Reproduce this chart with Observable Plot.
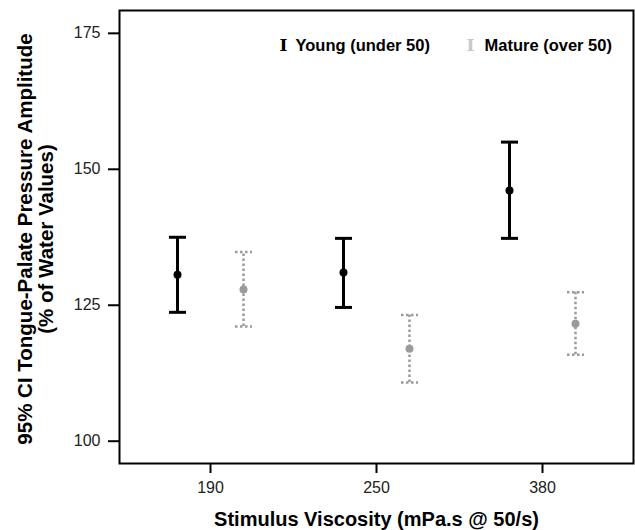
<!DOCTYPE html>
<html>
<head>
<meta charset="utf-8">
<script src="https://cdn.jsdelivr.net/npm/d3@7"></script>
<script src="https://cdn.jsdelivr.net/npm/@observablehq/plot@0.6"></script>
<style>
  html, body { margin: 0; padding: 0; background: #fff; }
  #chart svg { display: block; }
</style>
</head>
<body>
<div id="chart"></div>
<script>
// ---- data ----
const categories = ["190", "250", "380"];
const groups = ["Young (under 50)", "Mature (over 50)"];
const youngMean = [130.6, 131.0, 146.1];
const youngLow = [123.7, 124.6, 137.3];
const youngHigh = [137.5, 137.3, 155.0];
const matureMean = [127.9, 117.0, 121.6];
const matureLow = [121.1, 110.8, 115.9];
const matureHigh = [134.8, 123.2, 127.4];
const yTicks = [100, 125, 150, 175];
const xTitle = "Stimulus Viscosity (mPa.s @ 50/s)";
const yTitle = "95% CI Tongue-Palate Pressure Amplitude\n(% of Water Values)";

const young = categories.map((c, i) => ({cat: c, mean: youngMean[i], lo: youngLow[i], hi: youngHigh[i]}));
const mature = categories.map((c, i) => ({cat: c, mean: matureMean[i], lo: matureLow[i], hi: matureHigh[i]}));

const FONT = "'Liberation Sans', Arial, Helvetica, sans-serif";
const cap = {draw(ctx) { ctx.moveTo(-8.5, 0); ctx.lineTo(8.5, 0); }};
const grey = "#9a9a9a";
const dash = "2.5,2.5";
const off = 33;

function bars(data, dx, color, dashed) {
  const s = {stroke: color, strokeWidth: dashed ? 2.5 : 3, strokeDasharray: dashed ? dash : null};
  return [
    Plot.ruleX(data, {x: "cat", y1: "lo", y2: "hi", dx, ...s}),
    Plot.dot(data, {x: "cat", y: "lo", dx, symbol: cap, fill: "none", ...s}),
    Plot.dot(data, {x: "cat", y: "hi", dx, symbol: cap, fill: "none", ...s}),
    Plot.dot(data, {x: "cat", y: "mean", dx, r: 4, fill: color, stroke: "none"})
  ];
}

const chart = Plot.plot({
  width: 635,
  height: 530,
  marginLeft: 119,
  marginRight: 2,
  marginTop: 10,
  marginBottom: 67,
  style: {fontFamily: FONT, background: "#fff"},
  x: {type: "point", domain: categories, padding: 0.543},
  y: {domain: [95.9, 179.2]},
  marks: [
    Plot.axisY({ticks: yTicks, tickSize: 11, tickPadding: 8, label: null, fontSize: 16, fill: "#222", stroke: "#000", strokeWidth: 2}),
    Plot.axisX({tickSize: 10, tickPadding: 8, label: null, fontSize: 16, fill: "#222", stroke: "#000", strokeWidth: 2}),
    Plot.frame({stroke: "#000", strokeWidth: 2}),
    ...bars(young, -off, "#000", false),
    ...bars(mature, off, grey, true),
    // axis titles
    Plot.text([yTitle], {frameAnchor: "left", rotate: -90, dx: -84, dy: 2, lineHeight: 1.02, fontSize: 20.5, fontWeight: "bold", fill: "#000", textAnchor: "middle", lineAnchor: "middle"}),
    Plot.text([xTitle], {frameAnchor: "bottom", dy: 55.6, fontSize: 20, fontWeight: "bold", fill: "#000", textAnchor: "middle", lineAnchor: "middle"}),
    // legend
    Plot.text(["I"], {frameAnchor: "top-left", dx: 164, dy: 35, fontSize: 17, fontWeight: "bold", fontFamily: "'DejaVu Serif', serif", fill: "#000", textAnchor: "middle", lineAnchor: "middle"}),
    Plot.text([groups[0]], {frameAnchor: "top-left", dx: 176, dy: 35.5, fontSize: 16.5, fontWeight: "bold", fill: "#000", textAnchor: "start", lineAnchor: "middle"}),
    Plot.text(["I"], {frameAnchor: "top-left", dx: 351, dy: 35, fontSize: 17, fontWeight: "bold", fontFamily: "'DejaVu Serif', serif", fill: "#c8c8c8", textAnchor: "middle", lineAnchor: "middle"}),
    Plot.text([groups[1]], {frameAnchor: "top-left", dx: 365, dy: 35.5, fontSize: 16.5, fontWeight: "bold", fill: "#000", textAnchor: "start", lineAnchor: "middle"})
  ]
});
document.getElementById("chart").appendChild(chart);
</script>
</body>
</html>
